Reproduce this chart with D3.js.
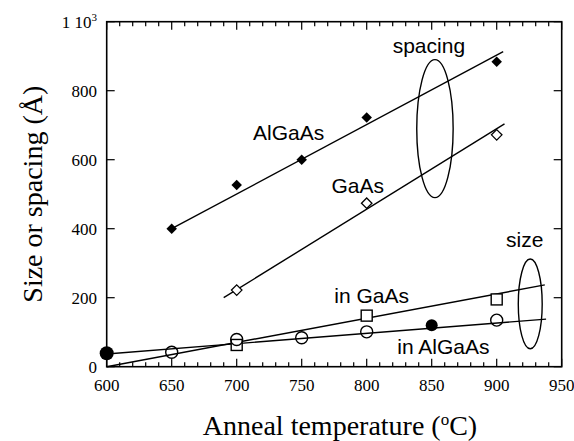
<!DOCTYPE html>
<html>
<head>
<meta charset="utf-8">
<script src="https://d3js.org/d3.v7.min.js"></script>
<style>
  body { margin: 0; background: #fff; }
  svg { display: block; }
  .tick-label { font-family: "Liberation Serif", "Times New Roman", serif; font-size: 17px; fill: #000; }
  .title { font-family: "Liberation Serif", "Times New Roman", serif; font-size: 28px; fill: #000; }
  .note { font-family: "Liberation Sans", Arial, sans-serif; font-size: 21px; fill: #000; }
</style>
</head>
<body>
<svg id="chart" width="574" height="441"></svg>
<script>
// spacing data
const algaasSpacingT = [650, 700, 750, 800, 900];
const algaasSpacing = [400, 527, 600, 722, 884];
const gaasSpacingT = [700, 800, 900];
const gaasSpacing = [222, 474, 672];

// size data
const gaasSizeT = [700, 800, 900];
const gaasSize = [63, 148, 195];
const algaasSizeT = [650, 700, 750, 800, 900];
const algaasSize = [42, 79, 84, 101, 135];
const filledSizeT = [600, 850];
const filledSize = [39, 120];

// fitted lines, end points in data units
const fitT0 = [650, 690, 600, 600];
const fitV0 = [400, 200, 0, 37];
const fitT1 = [905, 906, 937, 938];
const fitV1 = [913, 704, 237, 138];

// ellipses grouping the two families
const ellCenterT = [852.5, 925.8];
const ellCenterV = [690, 182];
const ellRadT = [14, 9.2];
const ellRadV = [200, 130];

const xTicks = [600, 650, 700, 750, 800, 850, 900, 950];
const yTicks = [0, 200, 400, 600, 800];

const svg = d3.select("#chart");
const x = d3.scaleLinear().domain([600, 950]).range([106.7, 561.7]);
const y = d3.scaleLinear().domain([0, 1000]).range([366.7, 21.7]);

const pLeft = x(600), pRight = x(950), pTop = y(1000), pBottom = y(0);

// frame
svg.append("rect")
  .attr("x", pLeft).attr("y", pTop)
  .attr("width", pRight - pLeft).attr("height", pBottom - pTop)
  .attr("fill", "none").attr("stroke", "#000").attr("stroke-width", 1.6);

// x ticks, inward on top and bottom
const minorX = d3.range(600, 951, 10).filter(d => d % 50 !== 0);
const g = svg.append("g").attr("stroke", "#000").attr("stroke-width", 1.2);
xTicks.forEach(d => {
  g.append("line").attr("x1", x(d)).attr("x2", x(d)).attr("y1", pBottom).attr("y2", pBottom - 8);
  g.append("line").attr("x1", x(d)).attr("x2", x(d)).attr("y1", pTop).attr("y2", pTop + 8);
});
minorX.forEach(d => {
  g.append("line").attr("x1", x(d)).attr("x2", x(d)).attr("y1", pBottom).attr("y2", pBottom - 4.5);
  g.append("line").attr("x1", x(d)).attr("x2", x(d)).attr("y1", pTop).attr("y2", pTop + 4.5);
});
// y ticks, inward on left and right
yTicks.concat([1000]).forEach(d => {
  g.append("line").attr("x1", pLeft).attr("x2", pLeft + 8).attr("y1", y(d)).attr("y2", y(d));
  g.append("line").attr("x1", pRight).attr("x2", pRight - 8).attr("y1", y(d)).attr("y2", y(d));
});

// tick labels
svg.selectAll(".xl").data(xTicks).join("text")
  .attr("class", "tick-label")
  .attr("x", d => x(d)).attr("y", 391)
  .attr("text-anchor", "middle")
  .text(d => d);

svg.selectAll(".yl").data(yTicks).join("text")
  .attr("class", "tick-label")
  .attr("x", 97).attr("y", d => y(d) + 6)
  .attr("text-anchor", "end")
  .text(d => d);

const top1k = svg.append("text").attr("class", "tick-label")
  .attr("x", 97).attr("y", y(1000) + 6).attr("text-anchor", "end");
top1k.append("tspan").text("1 10");
top1k.append("tspan").attr("font-size", 11).attr("dy", -7).text("3");

// axis titles
const xt = svg.append("text").attr("class", "title")
  .attr("x", 340).attr("y", 435).attr("text-anchor", "middle");
xt.append("tspan").text("Anneal temperature (");
xt.append("tspan").attr("font-size", 17).attr("dy", -10).text("o");
xt.append("tspan").attr("dy", 10).text("C)");

svg.append("text").attr("class", "title")
  .attr("transform", `translate(42,${(pTop + pBottom) / 2}) rotate(-90)`)
  .attr("text-anchor", "middle")
  .text("Size or spacing (Å)");

// fit lines
const lineG = svg.append("g").attr("stroke", "#000").attr("stroke-width", 1.4);
fitT0.forEach((t, i) => {
  lineG.append("line")
    .attr("x1", x(t)).attr("y1", y(fitV0[i]))
    .attr("x2", x(fitT1[i])).attr("y2", y(fitV1[i]));
});

// ellipses
ellCenterT.forEach((t, i) => {
  svg.append("ellipse")
    .attr("cx", x(t)).attr("cy", y(ellCenterV[i]))
    .attr("rx", x(t + ellRadT[i]) - x(t))
    .attr("ry", y(0) - y(ellRadV[i]))
    .attr("fill", "none").attr("stroke", "#000").attr("stroke-width", 1.4);
});

// markers
const diamond = d3.symbol().type(d3.symbolDiamond2).size(70);
svg.selectAll(".fd").data(algaasSpacingT).join("path")
  .attr("d", diamond)
  .attr("transform", (d, i) => `translate(${x(d)},${y(algaasSpacing[i])})`)
  .attr("fill", "#000");

svg.selectAll(".od").data(gaasSpacingT).join("path")
  .attr("d", diamond)
  .attr("transform", (d, i) => `translate(${x(d)},${y(gaasSpacing[i])})`)
  .attr("fill", "#fff").attr("stroke", "#000").attr("stroke-width", 1.3);

svg.selectAll(".sq").data(gaasSizeT).join("rect")
  .attr("x", d => x(d) - 5.5)
  .attr("y", (d, i) => y(gaasSize[i]) - 5.5)
  .attr("width", 11).attr("height", 11)
  .attr("fill", "#fff").attr("stroke", "#000").attr("stroke-width", 1.4);

svg.selectAll(".oc").data(algaasSizeT).join("circle")
  .attr("cx", d => x(d))
  .attr("cy", (d, i) => y(algaasSize[i]))
  .attr("r", 6)
  .attr("fill", "none").attr("stroke", "#000").attr("stroke-width", 1.4);

svg.selectAll(".fc").data(filledSizeT).join("circle")
  .attr("cx", d => x(d))
  .attr("cy", (d, i) => y(filledSize[i]))
  .attr("r", (d, i) => i === 0 ? 7 : 6)
  .attr("fill", "#000");

// annotations
const notes = [
  { t: "spacing", x: 392.7, y: 53 },
  { t: "AlGaAs", x: 253, y: 140 },
  { t: "GaAs", x: 331.5, y: 193 },
  { t: "size", x: 506, y: 247 },
  { t: "in GaAs", x: 334.3, y: 303 },
  { t: "in AlGaAs", x: 397.3, y: 354 }
];
svg.selectAll(".note").data(notes).join("text")
  .attr("class", "note")
  .attr("x", d => d.x).attr("y", d => d.y)
  .text(d => d.t);
</script>
</body>
</html>
